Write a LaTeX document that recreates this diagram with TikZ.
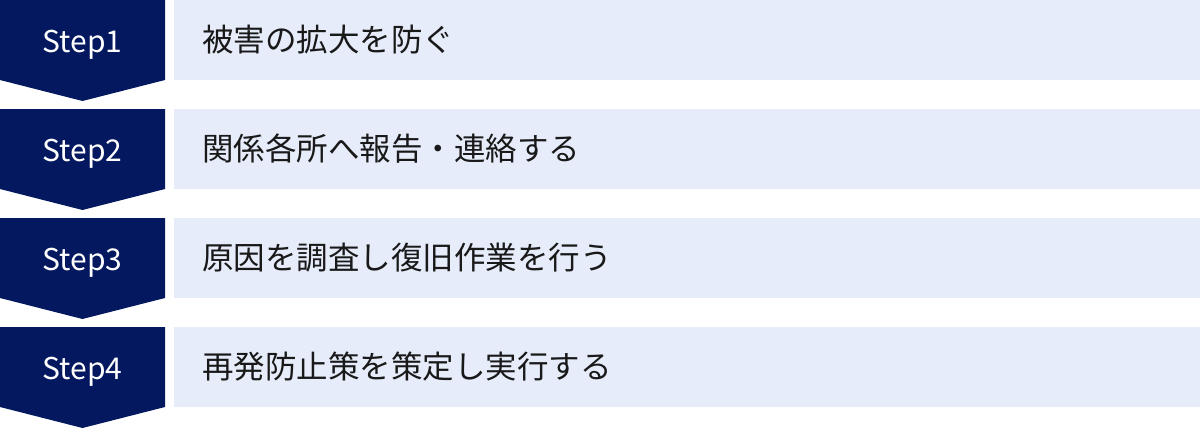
\documentclass[tikz,border=0pt]{standalone}
\usepackage{fontspec}
\setmainfont{Noto Sans CJK JP}
\definecolor{navy}{HTML}{04185F}
\definecolor{paleblue}{HTML}{E6ECF9}
\begin{document}
\begin{tikzpicture}[x=1pt,y=-1pt]
        \tikzstyle{steplabel}=[text=white,font=\fontsize{30}{32}\selectfont,anchor=base,inner sep=0pt]
        \tikzstyle{task}=[text=black!90,font=\fontsize{31.5}{33}\selectfont,anchor=base west,inner sep=0pt]
        \useasboundingbox (0,0) rectangle (1200,429);
        \foreach \n/\t [count=\i from 0] in {1/被害の拡大を防ぐ,2/関係各所へ報告・連絡する,3/原因を調査し復旧作業を行う,4/再発防止策を策定し実行する} {
                \fill[navy] (0,\i*109) -- ++(165,0) -- ++(0,80) -- ++(-82.5,21) -- ++(-82.5,-21) -- cycle;
                \fill[paleblue] (174,\i*109) rectangle ++(1026,80);
                \node[steplabel] (s\n) at (82.5,\i*109+52.5) {Step\n};
                \node[task] (t\n) at (202,\i*109+51) {\t};
        }
\end{tikzpicture}
\end{document}
